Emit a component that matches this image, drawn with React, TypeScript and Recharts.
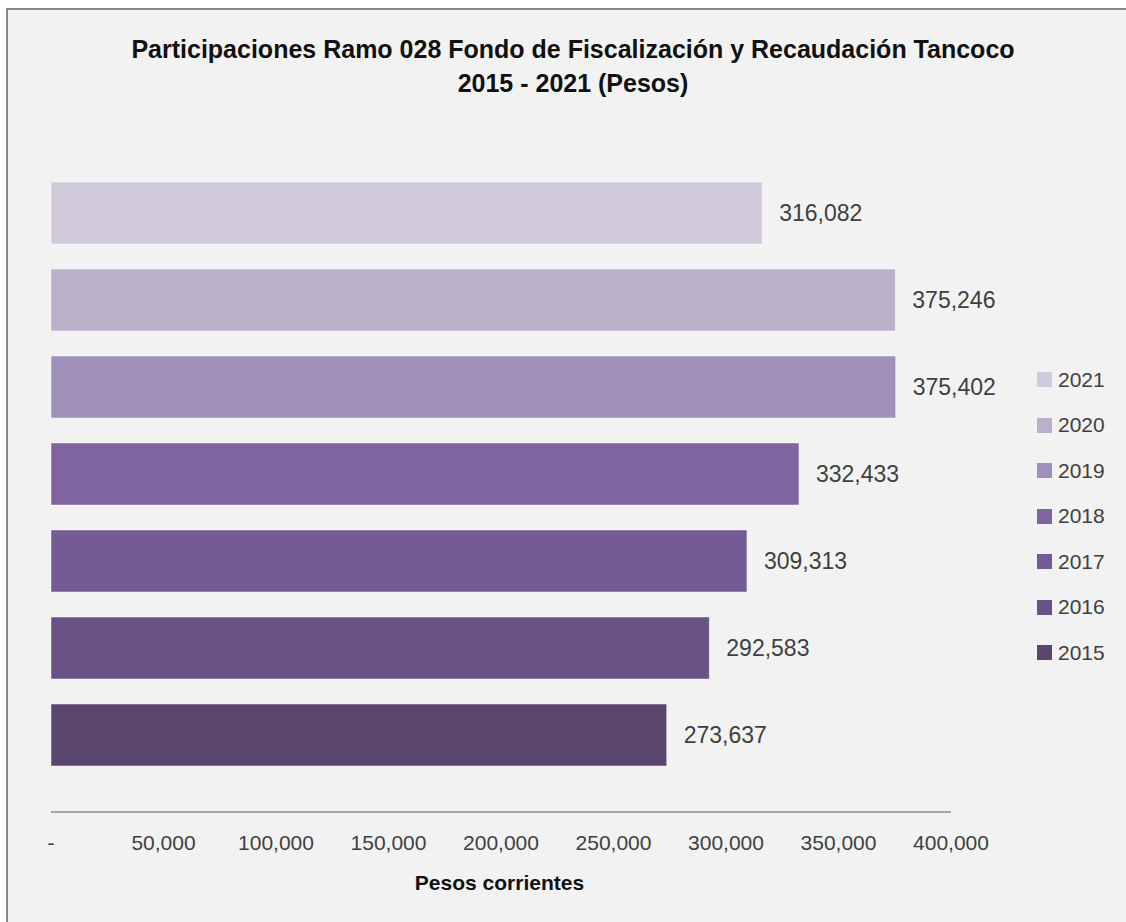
import { BarChart, Bar, XAxis, YAxis, LabelList, Legend } from 'recharts';

// top to bottom, as the bars and the legend read
const years = ['2021', '2020', '2019', '2018', '2017', '2016', '2015'];
const values = [316082, 375246, 375402, 332433, 309313, 292583, 273637];
const colors = ['#d0cadb', '#bbb0ca', '#a08fb8', '#8064a1', '#745b93', '#6a5286', '#5b4670'];
const xTicks = [0, 50000, 100000, 150000, 200000, 250000, 300000, 350000, 400000];

const row: Record<string, string | number> = { name: 'Tancoco' };
years.forEach((y, i) => {
  row['y' + y] = values[i];
});
const data = [row];

const font = '"Liberation Sans", Arial, sans-serif';
const fmt = (v: number) => (v === 0 ? '-' : v.toLocaleString('en-US'));

function YearLegend() {
  return (
    <div style={{ fontFamily: font }}>
      {years.map((y, i) => (
        <div key={y} style={{ height: 45.5, display: 'flex', alignItems: 'center' }}>
          <span style={{ width: 15, height: 15, background: colors[i], display: 'inline-block', marginRight: 6 }} />
          <span style={{ fontSize: 21, color: '#404040' }}>{y}</span>
        </div>
      ))}
    </div>
  );
}

export default function App() {
  return (
    <>
      <style>{'html { overflow: hidden; }'}</style>
      <div
        style={{
          position: 'fixed',
          overflow: 'hidden',
          left: 6,
          top: 8,
          right: 0,
          bottom: 0,
          borderTop: '2px solid #878787',
          borderLeft: '2px solid #878787',
          background: '#f2f2f2',
          fontFamily: font,
        }}
      >
        <div
          style={{
            position: 'absolute',
            left: 65,
            top: 21.6,
            width: 1000,
            textAlign: 'center',
            fontSize: 25,
            lineHeight: '34px',
            fontWeight: 'bold',
            color: '#111',
          }}
        >
          Participaciones Ramo 028 Fondo de Fiscalización y Recaudación Tancoco
          <br />
          2015 - 2021 (Pesos)
        </div>
        <BarChart
          width={1118}
          height={912}
          data={data}
          layout="vertical"
          margin={{ top: 125, right: 175, bottom: 30, left: 43 }}
          barGap={25}
          barSize={62}
        >
          <XAxis
            type="number"
            domain={[0, 400000]}
            ticks={xTicks}
            tickFormatter={fmt}
            axisLine={{ stroke: '#8c8c8c', strokeWidth: 1.5 }}
            tickLine={false}
            tickMargin={17}
            height={80}
            tick={{ fontSize: 21, fill: '#404040', fontFamily: font }}
            label={{
              value: 'Pesos corrientes',
              position: 'insideBottom',
              offset: 2,
              dx: -1.5,
              fontSize: 21,
              fontWeight: 'bold',
              fill: '#111',
              fontFamily: font,
            }}
          />
          <YAxis type="category" dataKey="name" hide />
          <Legend
            layout="vertical"
            align="center"
            verticalAlign="middle"
            content={<YearLegend />}
            wrapperStyle={{ left: 1029, top: 347, width: 80 }}
          />
          {years.map((y, i) => (
            <Bar
              key={y}
              dataKey={'y' + y}
              name={y}
              fill={colors[i]}
              stroke="rgba(255,255,255,0.45)"
              strokeWidth={1}
              isAnimationActive={false}
            >
              <LabelList
                dataKey={'y' + y}
                position="right"
                offset={17}
                formatter={(v: number) => v.toLocaleString('en-US')}
                style={{ fontSize: 23, fill: '#404040', fontFamily: font }}
              />
            </Bar>
          ))}
        </BarChart>
      </div>
    </>
  );
}
